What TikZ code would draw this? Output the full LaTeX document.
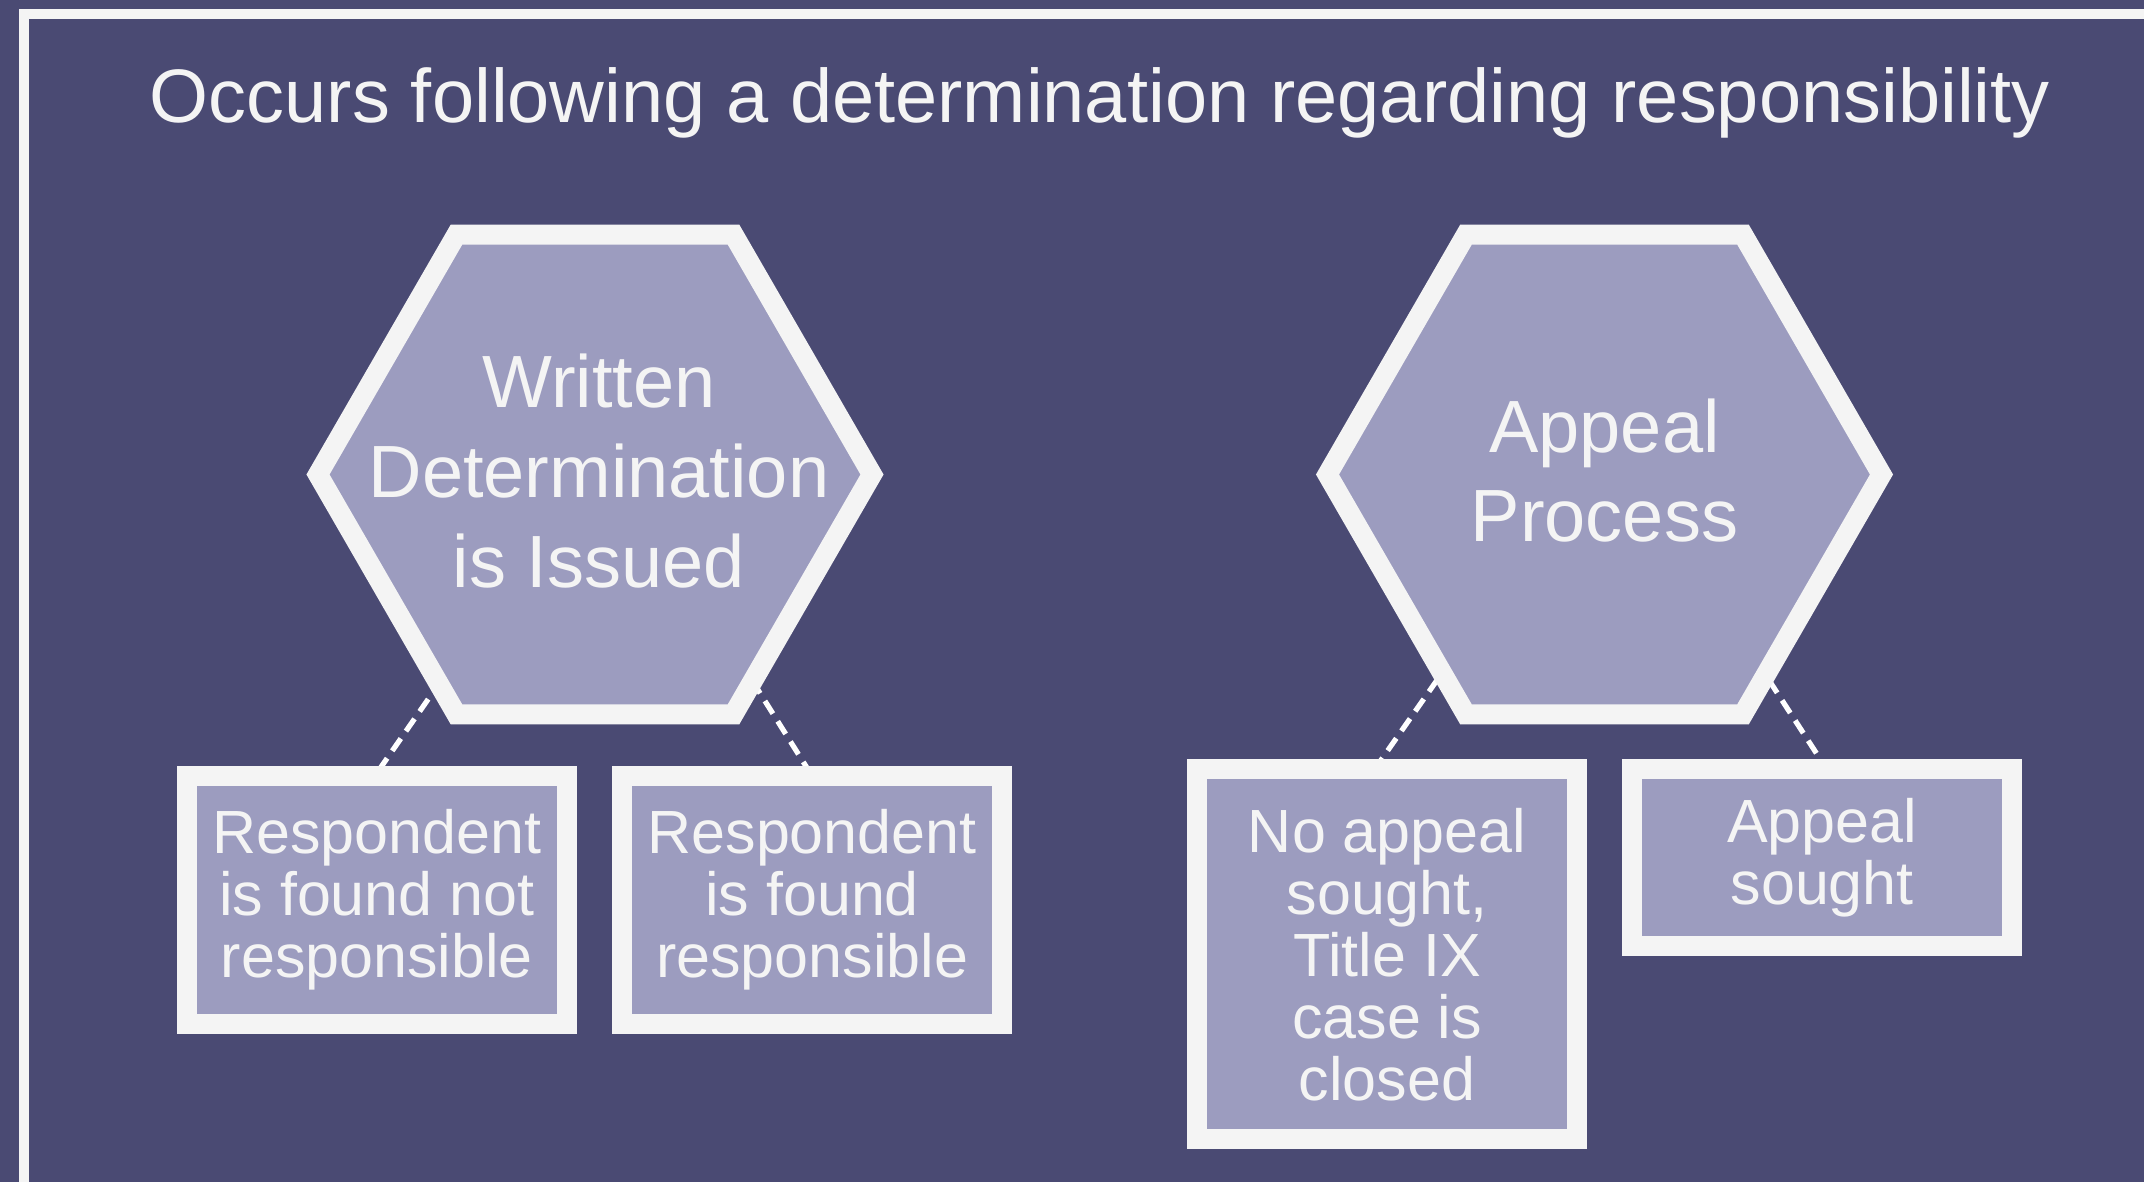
\documentclass[tikz,border=0pt]{standalone}
\usepackage{fontspec}
\setmainfont{Liberation Sans}
\usetikzlibrary{calc}
\definecolor{bgc}{HTML}{4A4A73}
\definecolor{hexf}{HTML}{9C9CBF}
\definecolor{wht}{HTML}{F4F4F4}
\pgfdeclarelayer{bglayer}
\pgfsetlayers{bglayer,main}
\tikzset{
  hexshape/.style={draw=wht, fill=hexf, line width=10pt, line join=miter},
  hextext/.style={text=wht, align=center, font=\fontsize{37}{44.85}\selectfont, inner sep=0pt},
  boxnode/.style={draw=wht, fill=hexf, line width=10pt, text=wht, align=center, inner sep=0pt, outer sep=0pt, minimum width=189.8pt, font=\fontsize{30.5}{31}\selectfont},
  conn/.style={draw=white, line width=2.6pt, dash pattern=on 7.5pt off 4.5pt},
  titletext/.style={text=wht, font=\fontsize{37.9}{45}\selectfont, inner sep=0pt},
  framestyle/.style={draw=wht, line width=5pt}
}
\begin{document}
\begin{tikzpicture}[x=0.5pt, y=-0.5pt]
\useasboundingbox (0,0) rectangle (2144,1182);
\clip (0,0) rectangle (2144,1182);
\begin{pgfonlayer}{bglayer}
\fill[bgc] (0,0) rectangle (2144,1182);
\draw[framestyle] (24,14) rectangle (2260,1300);
\end{pgfonlayer}
\node[titletext, anchor=base] (title) at (1100,123) {Occurs following a determination regarding responsibility};
% hexagon centres
\coordinate (hL) at (595,474.5);
\coordinate (hR) at (1604.5,474.5);
% hexagons
\draw[hexshape] ($(hL)+(0:277)$) -- ($(hL)+(60:277)$) -- ($(hL)+(120:277)$) -- ($(hL)+(180:277)$) -- ($(hL)+(240:277)$) -- ($(hL)+(300:277)$) -- cycle;
\draw[hexshape] ($(hR)+(0:277)$) -- ($(hR)+(60:277)$) -- ($(hR)+(120:277)$) -- ($(hR)+(180:277)$) -- ($(hR)+(240:277)$) -- ($(hR)+(300:277)$) -- cycle;
\node[hextext, yshift=1.65pt, xshift=2pt] (tL) at (hL) {Written\\Determination\\is Issued};
\node[hextext, yshift=2pt] (tR) at (hR) {Appeal\\Process};
% boxes
\node[boxnode, minimum height=123.8pt] (b1) at (376.8,899.8) {Respondent\\is found not\\responsible};
\node[boxnode, minimum height=123.8pt] (b2) at (812.1,899.8) {Respondent\\is found\\responsible};
\node[boxnode, minimum height=185pt] (b3) at (1387,954.3) {No appeal\\sought,\\Title IX\\case is\\closed};
\node[boxnode, minimum height=88.5pt, minimum width=189.9pt] (b4) at (1822.2,857.8) {Appeal\\sought};
% connector start points inside the hexagons
\coordinate (s1) at ($(hL)+(-125.7,165.5)$);
\coordinate (s2) at ($(hL)+(131.6,165.5)$);
\coordinate (s3) at ($(hR)+(-139.4,165.5)$);
\coordinate (s4) at ($(hR)+(138.4,165.5)$);
\begin{pgfonlayer}{bglayer}
\draw[conn] (s1) -- ($(b1.north)+(-2,0)$);
\draw[conn] (s2) -- (b2.north);
\draw[conn] (s3) -- ($(b3.north)+(-12.4,0)$);
\draw[conn] (s4) -- ($(b4.north)+(4.6,0)$);
\end{pgfonlayer}
\end{tikzpicture}
\end{document}
